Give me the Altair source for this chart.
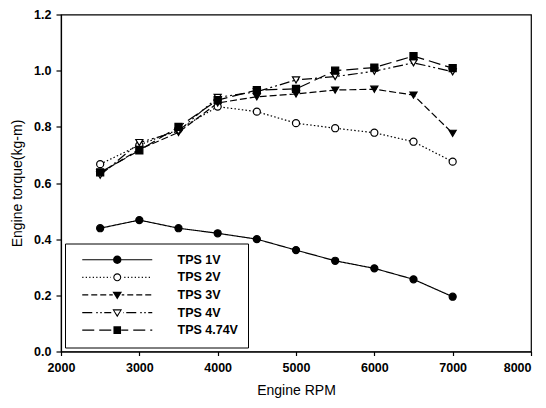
import altair as alt
import pandas as pd

# ---- data ----
rpm = [2500, 3000, 3500, 4000, 4500, 5000, 5500, 6000, 6500, 7000]
series = ["TPS 1V", "TPS 2V", "TPS 3V", "TPS 4V", "TPS 4.74V"]
tps_1v = [0.439, 0.468, 0.439, 0.421, 0.400, 0.361, 0.323, 0.296, 0.257, 0.195]
tps_2v = [0.667, 0.735, 0.790, 0.872, 0.854, 0.813, 0.795, 0.779, 0.747, 0.676]
tps_3v = [0.635, 0.720, 0.780, 0.885, 0.907, 0.917, 0.931, 0.934, 0.913, 0.777]
tps_4v = [0.628, 0.744, 0.785, 0.905, 0.925, 0.967, 0.979, 0.998, 1.028, 0.996]
tps_474v = [0.638, 0.716, 0.800, 0.895, 0.931, 0.935, 1.000, 1.011, 1.052, 1.009]
x_ticks = [2000, 3000, 4000, 5000, 6000, 7000, 8000]
y_ticks = [0.0, 0.2, 0.4, 0.6, 0.8, 1.0, 1.2]

rows = []
for name, vals in zip(series, [tps_1v, tps_2v, tps_3v, tps_4v, tps_474v]):
    for r, v in zip(rpm, vals):
        rows.append({"series": name, "rpm": r, "torque": v})
df = pd.DataFrame(rows)

# ---- styles ----
dashes = [[1, 0], [1.5, 2.2], [7, 3], [10, 3, 2, 3, 2, 3], [12, 5]]
shapes = ["circle", "circle", "triangle-down", "triangle-down", "square"]
fills = ["black", "white", "black", "white", "black"]

# legend glyphs (line + marker) drawn as SVG paths, units = px (symbolSize 4)
H = 0.6
MC = 36.0


def seg_path(pattern, start=1.0, end=71.0, skip=0.0):
    out = []
    pos = start
    i = 0
    while pos < end:
        ln = pattern[i % len(pattern)]
        on = (i % 2 == 0)
        a, b = pos, min(pos + ln, end)
        if on:
            pieces = [(a, b)]
            if skip > 0:
                pieces = []
                if a < MC - skip:
                    pieces.append((a, min(b, MC - skip)))
                if b > MC + skip:
                    pieces.append((max(a, MC + skip), b))
            for p0, p1 in pieces:
                if p1 - p0 > 0.2:
                    out.append(f"M{p0:.2f} {-H} H{p1:.2f} V{H} H{p0:.2f} Z")
        pos += ln
        i += 1
    return " ".join(out)


def circle(r, cw=True):
    s = 1 if cw else 0
    return (f"M{MC + r:.2f} 0 A{r} {r} 0 1 {s} {MC - r:.2f} 0 "
            f"A{r} {r} 0 1 {s} {MC + r:.2f} 0 Z")


def tri(w, t, b, cw=True):
    if cw:
        return f"M{MC - w:.2f} {t} L{MC + w:.2f} {t} L{MC:.2f} {b} Z"
    return f"M{MC - w:.2f} {t} L{MC:.2f} {b} L{MC + w:.2f} {t} Z"


def square(a):
    return f"M{MC - a:.2f} {-a} H{MC + a:.2f} V{a} H{MC - a:.2f} Z"


legend_paths = [
    seg_path([70, 0]) + " " + circle(4.2),
    seg_path([1.2, 2.3], skip=6.5) + " " + circle(4.0) + " " + circle(2.9, cw=False),
    seg_path([6, 3], skip=4.5) + " " + tri(4.8, -3.2, 4.6),
    seg_path([10, 4, 1.5, 2.5, 1.5, 2.5], skip=6.0) + " " + tri(4.8, -3.2, 4.6) + " " + tri(3.0, -2.1, 2.5, cw=False),
    seg_path([12, 5], skip=4.0) + " " + square(3.8),
]

FONT = "Liberation Sans"

x_enc = alt.X(
    "rpm:Q",
    scale=alt.Scale(domain=[2000, 8000], nice=False, zero=False),
    axis=alt.Axis(values=x_ticks, format="d", title="Engine RPM", grid=False,
                  tickSize=4, labelPadding=6, titlePadding=9,
                  labelFontWeight="bold", labelFontSize=12.5,
                  titleFontSize=14, titleFontWeight="normal",
                  labelFont=FONT, titleFont=FONT, labelFlush=False,
                  labelAlign={"expr": "datum.value == 8000 ? 'right' : 'center'"}),
)
y_enc = alt.Y(
    "torque:Q",
    scale=alt.Scale(domain=[0, 1.2], nice=False),
    axis=alt.Axis(values=y_ticks, format=".1f", title="Engine torque(kg-m)", grid=False,
                  tickSize=5, labelPadding=5, titlePadding=9,
                  labelFontWeight="bold", labelFontSize=12.5,
                  titleFontSize=14, titleFontWeight="normal",
                  labelFont=FONT, titleFont=FONT, labelFlush=False),
)

lines = alt.Chart(df).mark_line(color="black", strokeWidth=1.2).encode(
    x=x_enc, y=y_enc,
    strokeDash=alt.StrokeDash("series:N", scale=alt.Scale(domain=series, range=dashes), legend=None),
)

points = alt.Chart(df).mark_point(filled=True, stroke="black", strokeWidth=1.2, size=50, opacity=1).encode(
    x=x_enc, y=y_enc,
    shape=alt.Shape("series:N", scale=alt.Scale(domain=series, range=shapes), legend=None),
    fill=alt.Fill("series:N", scale=alt.Scale(domain=series, range=fills), legend=None),
)

legend_layer = alt.Chart(df).mark_point(filled=True, color="black", opacity=0, size=4).encode(
    x=x_enc, y=y_enc,
    shape=alt.Shape(
        "series:N",
        scale=alt.Scale(domain=series, range=legend_paths),
        title=None,
        legend=alt.Legend(
            orient="none", legendX=4, legendY=229,
            strokeColor="black", fillColor="white", padding=10,
            symbolSize=4, symbolStrokeWidth=0, symbolOpacity=1,
            symbolFillColor="black",
            labelFont=FONT, labelFontWeight="bold", labelFontSize=12.5,
            labelOffset=90, rowPadding=4.6, labelLimit=0,
        ),
    ),
)

chart = alt.layer(lines, points, legend_layer).resolve_scale(
    shape="independent", fill="independent"
).resolve_legend(shape="independent").properties(
    width=470, height=337,
    autosize=alt.AutoSizeParams(type="none"),
    padding={"left": 53, "top": 6.5, "right": 7, "bottom": 48},
).configure_view(stroke="black", strokeWidth=1.2).configure_axis(
    domainColor="black", tickColor="black", labelColor="black", titleColor="black",
    domainWidth=1.2, tickWidth=1.2,
)

chart.save("out.html", embed_options={"renderer": "svg", "actions": False})
